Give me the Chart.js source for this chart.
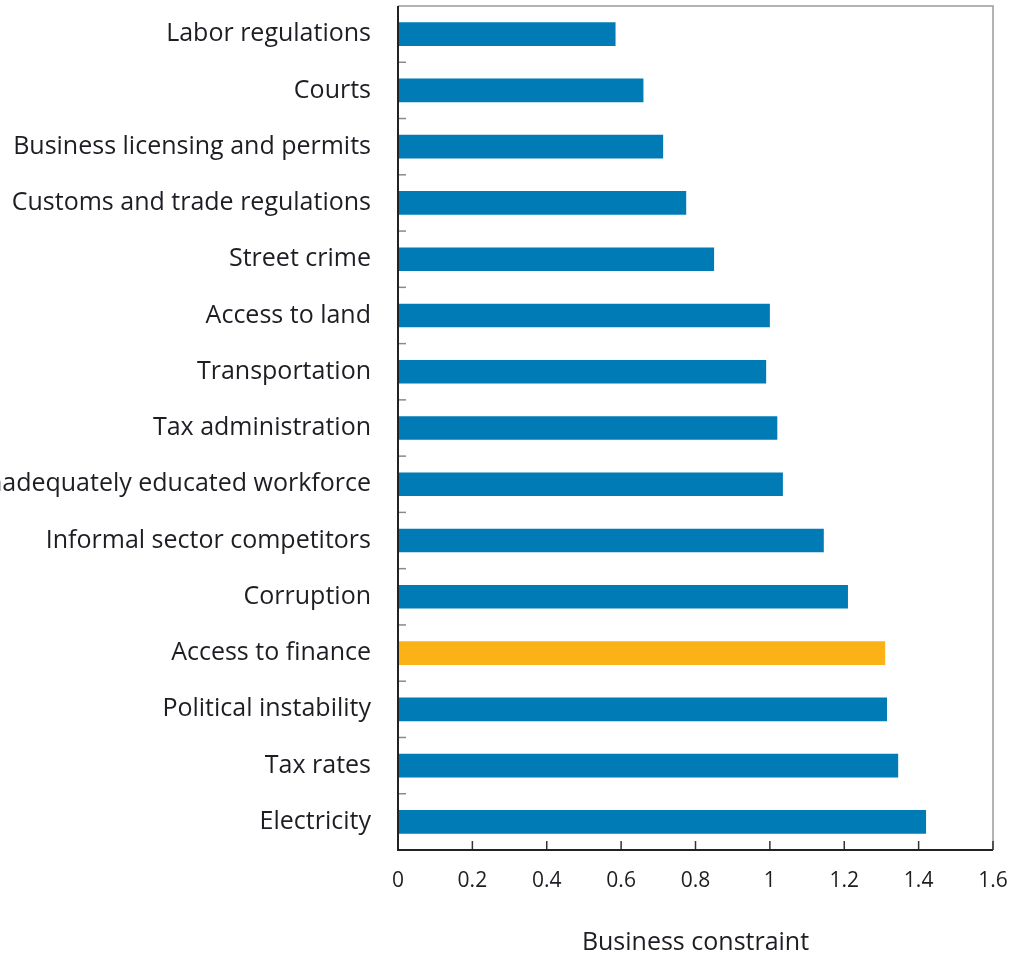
<!DOCTYPE html>
<html>
<head>
<meta charset="utf-8">
<script src="https://cdn.jsdelivr.net/npm/chart.js@4.4.0/dist/chart.umd.min.js"></script>
<style>
  html, body { margin: 0; padding: 0; background: #fff; }
  #wrap { width: 1009px; height: 953px; }
</style>
</head>
<body>
<div id="wrap"><canvas id="myChart"></canvas></div>
<script>
// Constraint names, top to bottom
var categories = [
    'Labor regulations',
    'Courts',
    'Business licensing and permits',
    'Customs and trade regulations',
    'Street crime',
    'Access to land',
    'Transportation',
    'Tax administration',
    'Inadequately educated workforce',
    'Informal sector competitors',
    'Corruption',
    'Access to finance',
    'Political instability',
    'Tax rates',
    'Electricity'
];

// Business constraint score for each one
var constraintValues = [0.585, 0.66, 0.713, 0.775, 0.85, 1.0, 0.99, 1.02, 1.035, 1.145, 1.21, 1.31, 1.315, 1.345, 1.42];

// Category shown in the accent colour
var highlighted = 'Access to finance';

// Values printed under the horizontal axis
var xTicks = [0, 0.2, 0.4, 0.6, 0.8, 1, 1.2, 1.4, 1.6];

var BLUE = '#007BB6';
var GOLD = '#FBB216';
var TEXT = '#1F1D24';
var FONT = "'Open Sans', sans-serif";

var barColors = categories.map(function(c) {
    return c === highlighted ? GOLD : BLUE;
});

// Frame, plus the short inward tick marks on both axes
var framePlugin = {
    id: 'frame',
    afterDraw: function(chart) {
        var ctx = chart.ctx;
        var a = chart.chartArea;
        var xs = chart.scales.x;
        var ys = chart.scales.y;
        ctx.save();

        // top and right edges
        ctx.strokeStyle = '#9a9a9a';
        ctx.lineWidth = 1.5;
        ctx.beginPath();
        ctx.moveTo(a.left, a.top);
        ctx.lineTo(a.right, a.top);
        ctx.lineTo(a.right, a.bottom);
        ctx.stroke();

        // left axis marks between categories
        ctx.strokeStyle = '#8a8a8a';
        ctx.lineWidth = 1.5;
        for (var i = 1; i < categories.length; i++) {
            var y = (ys.getPixelForTick(i - 1) + ys.getPixelForTick(i)) / 2;
            ctx.beginPath();
            ctx.moveTo(a.left, y);
            ctx.lineTo(a.left + 8, y);
            ctx.stroke();
        }

        // bottom axis marks pointing up
        ctx.strokeStyle = '#333';
        xTicks.forEach(function(v) {
            if (v === 0) return;
            var x = xs.getPixelForValue(v);
            ctx.beginPath();
            ctx.moveTo(x, a.bottom);
            ctx.lineTo(x, a.bottom - 9);
            ctx.stroke();
        });

        // axis lines
        ctx.strokeStyle = '#222';
        ctx.lineWidth = 2;
        ctx.beginPath();
        ctx.moveTo(a.left, a.top);
        ctx.lineTo(a.left, a.bottom);
        ctx.lineTo(a.right, a.bottom);
        ctx.stroke();
        ctx.restore();
    }
};

var ctx = document.getElementById('myChart').getContext('2d');
var myChart = new Chart(ctx, {
    type: 'bar',
    data: {
        labels: categories,
        datasets: [{
            label: 'Business constraint',
            data: constraintValues,
            backgroundColor: barColors,
            borderWidth: 0,
            barPercentage: 0.42,
            categoryPercentage: 1
        }]
    },
    options: {
        indexAxis: 'y',
        responsive: true,
        maintainAspectRatio: false,
        animation: false,
        layout: {
            padding: { left: 0, right: 16, top: 6, bottom: 0 }
        },
        plugins: {
            legend: { display: false },
            tooltip: { enabled: false }
        },
        scales: {
            x: {
                min: 0,
                max: 1.6,
                afterBuildTicks: function(scale) {
                    scale.ticks = xTicks.map(function(v) { return { value: v }; });
                },
                afterFit: function(scale) {
                    scale.height = 103;
                    scale.paddingLeft = 0;
                    scale.paddingRight = 0;
                },
                grid: { display: false, drawTicks: false },
                border: { display: false },
                ticks: {
                    padding: 18,
                    color: TEXT,
                    font: { family: FONT, size: 21 },
                    maxRotation: 0,
                    autoSkip: false,
                    callback: function(v) { return String(v); }
                },
                title: {
                    display: true,
                    text: 'Business constraint',
                    color: TEXT,
                    font: { family: FONT, size: 25, lineHeight: 1 },
                    padding: { top: 0, bottom: -2 }
                }
            },
            y: {
                afterFit: function(scale) {
                    scale.width = 398;
                    scale.paddingTop = 0;
                    scale.paddingBottom = 0;
                },
                grid: { display: false, drawTicks: false },
                border: { display: false },
                ticks: {
                    padding: 27,
                    color: TEXT,
                    font: { family: FONT, size: 25 },
                    autoSkip: false
                }
            }
        }
    },
    plugins: [framePlugin]
});
</script>
</body>
</html>
